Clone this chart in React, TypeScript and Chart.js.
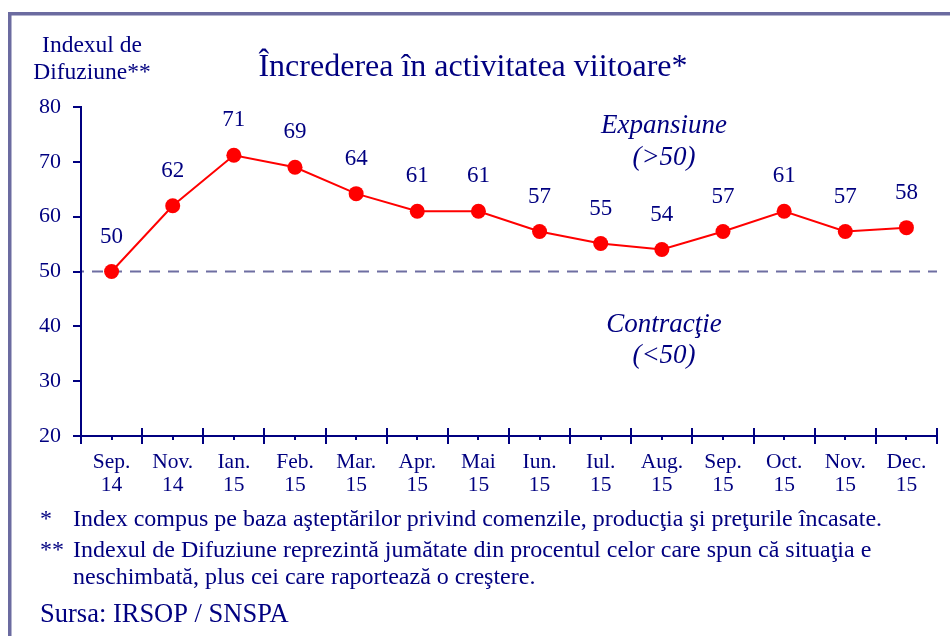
import React, { useEffect, useRef } from "react";
import { Chart, registerables } from "chart.js";

Chart.register(...registerables);

const months = ["Sep.", "Nov.", "Ian.", "Feb.", "Mar.", "Apr.", "Mai", "Iun.", "Iul.", "Aug.", "Sep.", "Oct.", "Nov.", "Dec."];
const years = ["14", "14", "15", "15", "15", "15", "15", "15", "15", "15", "15", "15", "15", "15"];
const values = [50, 62, 71.2, 69, 64.2, 61, 61, 57.3, 55.1, 54, 57.3, 61, 57.3, 58];
const valueLabels = ["50", "62", "71", "69", "64", "61", "61", "57", "55", "54", "57", "61", "57", "58"];
const yMin = 20;
const yMax = 80;
const yStep = 10;
const threshold = 50;

const title = "Încrederea în activitatea viitoare*";
const yTitle = ["Indexul de", "Difuziune**"];
const upperNote = ["Expansiune", "(>50)"];
const lowerNote = ["Contracţie", "(<50)"];
const footnotes = [
  ["*", "Index compus pe baza aşteptărilor privind comenzile, producţia şi preţurile încasate."],
  ["**", "Indexul de Difuziune reprezintă jumătate din procentul celor care spun că situaţia e"],
  ["", "neschimbată, plus cei care raportează o creştere."],
];
const source = "Sursa: IRSOP / SNSPA";

const NAVY = "#000080";
const SERIF = '"Liberation Serif", "Times New Roman", serif';

const decorPlugin = {
  id: "decor",
  beforeDatasetsDraw(chart: any) {
    const { ctx, chartArea, scales } = chart;
    const y = scales.y.getPixelForValue(threshold);
    ctx.save();
    ctx.strokeStyle = "#6e6ea2";
    ctx.lineWidth = 2;
    ctx.setLineDash([11, 8]);
    ctx.lineDashOffset = -10;
    ctx.beginPath();
    ctx.moveTo(chartArea.left + 1, y);
    ctx.lineTo(chartArea.right, y);
    ctx.stroke();
    ctx.restore();
  },
  afterDraw(chart: any) {
    const { ctx, chartArea, scales } = chart;
    const xs = scales.x;
    const ys = scales.y;
    ctx.save();
    ctx.strokeStyle = NAVY;
    ctx.lineWidth = 2;
    const n = months.length;
    const step = (chartArea.right - chartArea.left) / n;
    for (let i = 0; i <= n; i++) {
      const x = Math.round(chartArea.left + i * step);
      ctx.beginPath();
      ctx.moveTo(x, chartArea.bottom - 8);
      ctx.lineTo(x, chartArea.bottom);
      ctx.stroke();
    }
    for (let i = 0; i < n; i++) {
      const x = Math.round(xs.getPixelForValue(i));
      ctx.beginPath();
      ctx.moveTo(x, chartArea.bottom);
      ctx.lineTo(x, chartArea.bottom + 4);
      ctx.stroke();
    }

    ctx.fillStyle = NAVY;
    ctx.textAlign = "center";
    ctx.textBaseline = "middle";
    ctx.font = `23px ${SERIF}`;
    const meta = chart.getDatasetMeta(0);
    meta.data.forEach((pt: any, i: number) => {
      ctx.fillText(valueLabels[i], pt.x, pt.y - 35);
    });

    ctx.font = `32px ${SERIF}`;
    ctx.fillText(title, 473, 68);

    ctx.font = `23.5px ${SERIF}`;
    ctx.fillText(yTitle[0], 92, 46);
    ctx.fillText(yTitle[1], 92, 73);

    ctx.font = `italic 27px ${SERIF}`;
    const nx = 664;
    ctx.fillText(upperNote[0], nx, ys.getPixelForValue(76.5));
    ctx.fillText(upperNote[1], nx, ys.getPixelForValue(70.8));
    ctx.fillText(lowerNote[0], nx, ys.getPixelForValue(40.3));
    ctx.fillText(lowerNote[1], nx, ys.getPixelForValue(34.6));

    ctx.textAlign = "left";
    ctx.font = `24px ${SERIF}`;
    const fy = [520, 551, 578];
    footnotes.forEach((f, i) => {
      if (f[0]) ctx.fillText(f[0], 40, fy[i]);
      ctx.fillText(f[1], 73, fy[i]);
    });
    ctx.font = `26.5px ${SERIF}`;
    ctx.fillText(source, 40, 615);

    ctx.strokeStyle = "#6b6ba0";
    ctx.lineWidth = 3.5;
    ctx.setLineDash([]);
    ctx.beginPath();
    ctx.moveTo(9.75, 640);
    ctx.lineTo(9.75, 13.75);
    ctx.lineTo(955, 13.75);
    ctx.stroke();
    ctx.restore();
  },
};

export default function App() {
  const ref = useRef<HTMLCanvasElement | null>(null);
  useEffect(() => {
    if (!ref.current) return;
    const labels = months.map((m, i) => [m, years[i]]);
    const chart = new Chart(ref.current, {
      type: "line",
      data: {
        labels,
        datasets: [
          {
            data: values,
            borderColor: "#ff0000",
            borderWidth: 2,
            pointRadius: 7.5,
            pointBackgroundColor: "#ff0000",
            pointBorderWidth: 0,
            pointHoverRadius: 7.5,
            tension: 0,
            clip: false as any,
          },
        ],
      },
      options: {
        responsive: false,
        animation: false,
        events: [],
        layout: { padding: { top: 107, right: 13, left: 0, bottom: 0 } },
        plugins: {
          legend: { display: false },
          tooltip: { enabled: false },
          title: { display: false },
        },
        scales: {
          x: {
            type: "category",
            offset: true,
            afterFit: (s: any) => {
              s.height = 200;
            },
            grid: {
              offset: true,
              drawOnChartArea: false,
              drawTicks: true,
              tickLength: 8,
              color: NAVY,
              lineWidth: 2,
            },
            border: { color: NAVY, width: 2 },
            ticks: {
              autoSkip: false,
              maxRotation: 0,
              minRotation: 0,
              padding: 7,
              color: NAVY,
              font: { family: SERIF, size: 21.5, lineHeight: 1.07 },
            },
          },
          y: {
            min: yMin,
            max: yMax,
            afterFit: (s: any) => {
              s.width = 81;
            },
            grid: {
              drawOnChartArea: false,
              drawTicks: true,
              tickLength: 8,
              color: NAVY,
              lineWidth: 2,
            },
            border: { color: NAVY, width: 2 },
            ticks: {
              stepSize: yStep,
              padding: 12,
              color: NAVY,
              font: { family: SERIF, size: 22 },
            },
          },
        },
      },
      plugins: [decorPlugin],
    });
    return () => chart.destroy();
  }, []);
  return (
    <div style={{ position: "absolute", left: 0, top: 0, width: 950, height: 636, background: "#fff" }}>
      <canvas ref={ref} width={950} height={636} style={{ display: "block" }} />
    </div>
  );
}
